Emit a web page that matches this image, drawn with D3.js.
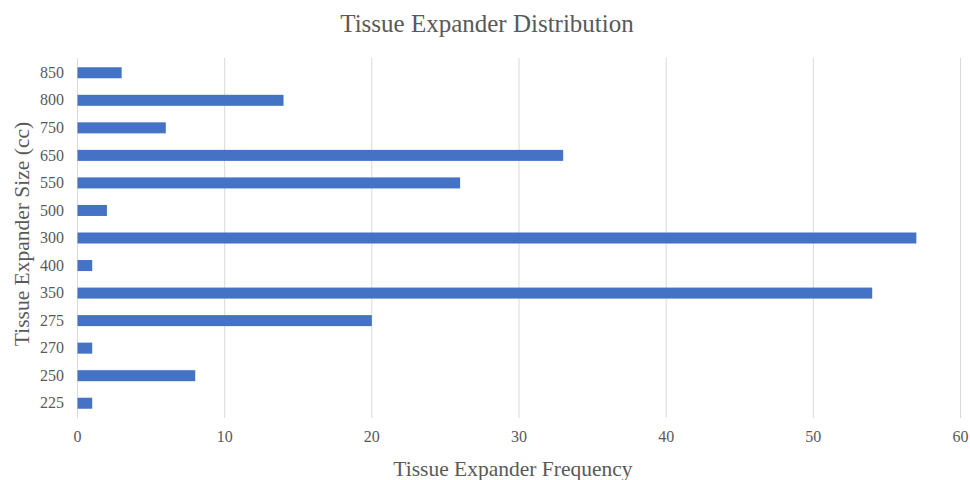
<!DOCTYPE html>
<html>
<head>
<meta charset="utf-8">
<script src="https://cdn.jsdelivr.net/npm/d3@7"></script>
<style>
  html, body { margin: 0; padding: 0; background: #fff; }
  svg { display: block; }
  text { font-family: "Liberation Serif", "Times New Roman", serif; fill: #595959; }
</style>
</head>
<body>
<svg id="chart" width="970" height="480"></svg>
<script>
// Expander sizes (cc), listed top to bottom
const sizes = ["850", "800", "750", "650", "550", "500", "300", "400", "350", "275", "270", "250", "225"];
// Number of expanders of each size
const frequencies = [3, 14, 6, 33, 26, 2, 57, 1, 54, 20, 1, 8, 1];
const xTicks = [0, 10, 20, 30, 40, 50, 60];

const titleText = "Tissue Expander Distribution";
const xTitle = "Tissue Expander Frequency";
const yTitle = "Tissue Expander Size (cc)";

const svg = d3.select("#chart");
const margin = { left: 77, right: 10, top: 59, bottom: 63 };

const x = d3.scaleLinear().domain([0, 60]).range([margin.left, 960]);
const y = d3.scaleBand().domain(sizes).range([margin.top, 417]).paddingInner(0.6).paddingOuter(0.3);

// vertical gridlines
svg.append("g")
  .selectAll("line")
  .data(xTicks)
  .join("line")
  .attr("x1", d => x(d) + 0.5).attr("x2", d => x(d) + 0.5)
  .attr("y1", 58).attr("y2", 418)
  .attr("stroke", "#d9d9d9").attr("stroke-width", 1);

// bars
svg.append("g")
  .selectAll("rect")
  .data(sizes.map((s, i) => ({ size: s, value: frequencies[i] })))
  .join("rect")
  .attr("x", x(0) + 0.5)
  .attr("y", d => y(d.size))
  .attr("width", d => x(d.value) - x(0))
  .attr("height", y.bandwidth())
  .attr("fill", "#4472c4");

// x axis tick labels
const xAxis = d3.axisBottom(x).tickValues(xTicks).tickSize(0).tickPadding(13);
svg.append("g")
  .attr("transform", "translate(0,418)")
  .call(xAxis)
  .call(g => g.select(".domain").remove())
  .call(g => g.selectAll("text")
    .attr("font-family", "Liberation Serif, serif")
    .attr("font-size", 16).attr("fill", "#595959"));

// y axis tick labels
const yAxis = d3.axisLeft(y).tickSize(0).tickPadding(13);
svg.append("g")
  .attr("transform", `translate(${margin.left},0)`)
  .call(yAxis)
  .call(g => g.select(".domain").remove())
  .call(g => g.selectAll("text")
    .attr("font-family", "Liberation Serif, serif")
    .attr("font-size", 16).attr("fill", "#595959"));

// titles
svg.append("text")
  .attr("x", 487).attr("y", 32)
  .attr("text-anchor", "middle")
  .attr("font-size", 25)
  .text(titleText);

svg.append("text")
  .attr("x", 513).attr("y", 476)
  .attr("text-anchor", "middle")
  .attr("font-size", 21.5)
  .text(xTitle);

svg.append("text")
  .attr("transform", "translate(29,234) rotate(-90)")
  .attr("text-anchor", "middle")
  .attr("font-size", 21.5)
  .text(yTitle);
</script>
</body>
</html>
